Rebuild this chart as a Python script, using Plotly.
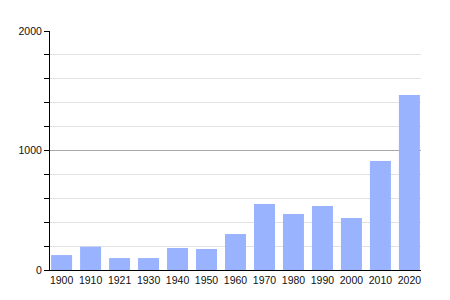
import plotly.graph_objects as go

years = ["1900", "1910", "1921", "1930", "1940", "1950", "1960",
         "1970", "1980", "1990", "2000", "2010", "2020"]
population = [125, 195, 100, 100, 184, 176, 301, 552, 469, 536, 435, 912, 1464]

fig = go.Figure(
    go.Bar(
        x=years,
        y=population,
        marker=dict(color="#99b3ff", line=dict(width=0)),
        hoverinfo="x+y",
    )
)

fig.update_layout(
    width=450,
    height=300,
    margin=dict(l=50, r=29, t=31, b=30),
    paper_bgcolor="white",
    plot_bgcolor="white",
    bargap=0.276,
    showlegend=False,
    font=dict(family="Liberation Sans, Arial, sans-serif", size=10.5, color="#111"),
)

fig.update_xaxes(
    type="category",
    range=[-0.4, 12.4],
    showline=True,
    linecolor="black",
    linewidth=1,
    ticks="",
    showgrid=False,
    fixedrange=True,
    ticklabelstandoff=0,
)

fig.update_yaxes(
    range=[0, 2000],
    tickvals=[0, 1000, 2000],
    ticktext=["0", "1000", "2000"],
    showline=True,
    linecolor="black",
    linewidth=1,
    ticks="outside",
    ticklen=5,
    tickcolor="black",
    showgrid=True,
    gridcolor="#a8a8a8",
    gridwidth=1,
    zeroline=False,
    minor=dict(
        dtick=200,
        ticks="outside",
        ticklen=5,
        tickcolor="black",
        showgrid=True,
        gridcolor="#e2e2e2",
        gridwidth=1,
    ),
    fixedrange=True,
)

fig.write_html("out.html")
